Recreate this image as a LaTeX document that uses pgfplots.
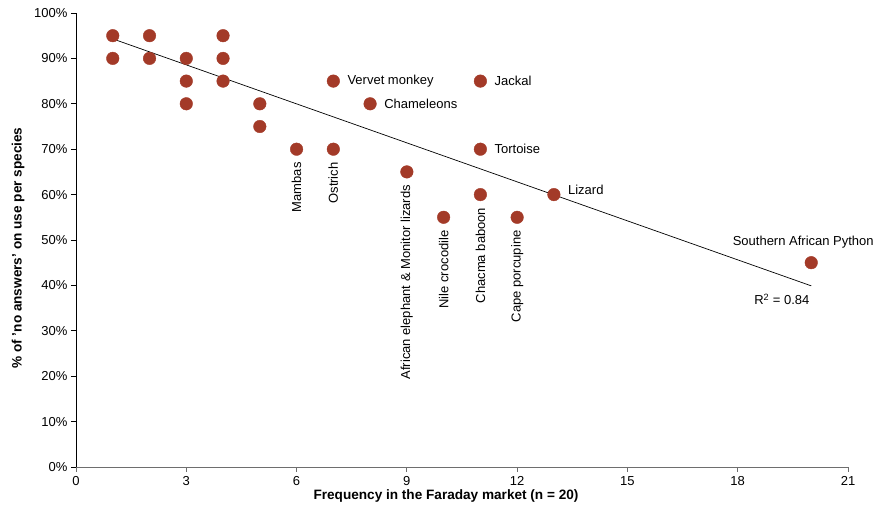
\documentclass[border=0pt]{standalone}
\usepackage{pgfplots}
\pgfplotsset{compat=1.18}
\usepackage{fontspec}
\setmainfont{Liberation Sans}
\definecolor{dotred}{RGB}{163,58,40}
\definecolor{axisgray}{RGB}{110,110,110}

\begin{document}
\begin{tikzpicture}
\useasboundingbox (-76pt,-46pt) rectangle (798pt,467pt);
\begin{axis}[
  scale only axis,
  width=772pt, height=454pt,
  xmin=0, xmax=21, ymin=0, ymax=100,
  xtick={0,3,...,21},
  ytick={0,10,...,100},
  yticklabel={\pgfmathprintnumber{\tick}\%},
  /pgf/number format/assume math mode=true,
  axis x line=bottom, axis y line=left,
  x axis line style={-, axisgray, line width=1pt},
  y axis line style={-, black, line width=0.8pt},
  tick align=outside,
  major tick length=5pt,
  x tick style={axisgray, line width=0.8pt},
  y tick style={black, line width=0.8pt},
  tick label style={font=\fontsize{13}{15}\selectfont},
  xticklabel style={yshift=-1pt},
  xlabel={\textbf{Frequency in the Faraday market (n = 20)}},
  ylabel={\textbf{\% of 'no answers' on use per species}},
  label style={font=\fontsize{13.6}{16}\selectfont},
  xlabel style={yshift=3pt, xshift=-16pt},
  ylabel style={yshift=3pt, xshift=-8pt},
  clip=false,
]
% linear trend line
\addplot[black, line width=0.7pt] coordinates {(1,94.3) (20,39.9)};

% species counts
\addplot[only marks, mark=*, mark size=6.3pt, mark options={fill=dotred, draw=dotred}]
coordinates {
  (1,95) (1,90)
  (2,95) (2,90)
  (3,90) (3,85) (3,80)
  (4,95) (4,90) (4,85)
  (5,80) (5,75)
  (6,70)
  (7,70) (7,85)
  (8,80)
  (9,65)
  (10,55)
  (11,85) (11,70) (11,60)
  (12,55)
  (13,60)
  (20,45)
};

\begin{scope}[every node/.style={font=\fontsize{13}{15}\selectfont, inner sep=0pt}]
\node[anchor=west] at ([xshift=14pt]axis cs:7,85) {Vervet monkey};
\node[anchor=west] at ([xshift=14pt]axis cs:8,80) {Chameleons};
\node[anchor=west] at ([xshift=14pt]axis cs:11,85) {Jackal};
\node[anchor=west] at ([xshift=14pt]axis cs:11,70) {Tortoise};
\node[anchor=west] at ([xshift=14pt, yshift=5pt]axis cs:13,60) {Lizard};
\node[anchor=south] at ([xshift=-8pt, yshift=14pt]axis cs:20,45) {Southern African Python};
\node at (axis cs:19.2,36.9) {R\textsuperscript{2} = 0.84};

\node[rotate=90, anchor=east] at ([yshift=-13pt]axis cs:6,70) {Mambas};
\node[rotate=90, anchor=east] at ([yshift=-13pt]axis cs:7,70) {Ostrich};
\node[rotate=90, anchor=east] at ([yshift=-13pt]axis cs:9,65) {African elephant \& Monitor lizards};
\node[rotate=90, anchor=east] at ([yshift=-13pt]axis cs:10,55) {Nile crocodile};
\node[rotate=90, anchor=east] at ([yshift=-13pt]axis cs:11,60) {Chacma baboon};
\node[rotate=90, anchor=east] at ([yshift=-13pt]axis cs:12,55) {Cape porcupine};
\end{scope}
\end{axis}
\end{tikzpicture}
\end{document}
